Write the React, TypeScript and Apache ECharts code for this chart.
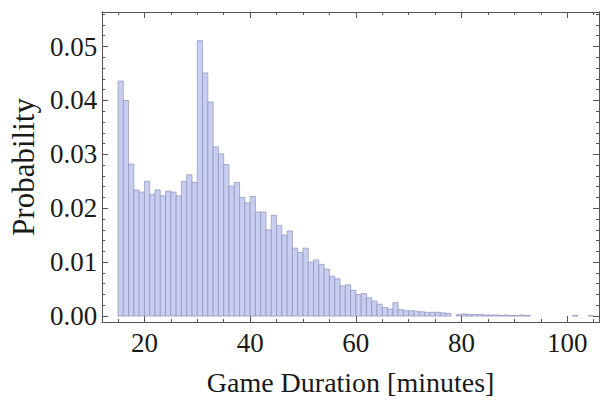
import React, { useEffect, useRef } from "react";
import * as echarts from "echarts";

// Histogram: game duration (minutes), 1-minute bins starting at 15
const firstBin = 15;
const binWidth = 1;
const probability = [
  0.0436, 0.04, 0.0282, 0.0234, 0.023, 0.025, 0.0226, 0.0234, 0.0223, 0.0232,
  0.023, 0.0223, 0.025, 0.0262, 0.0248, 0.0511, 0.0451, 0.0397, 0.0314, 0.0301,
  0.0281, 0.0241, 0.0248, 0.022, 0.021, 0.0222, 0.0193, 0.0193, 0.016, 0.0187,
  0.0168, 0.015, 0.0158, 0.0126, 0.0118, 0.0126, 0.01, 0.0104, 0.0096, 0.0087,
  0.0074, 0.0069, 0.0056, 0.0058, 0.0048, 0.004, 0.0042, 0.0034, 0.0028, 0.0022,
  0.0016, 0.0013, 0.0025, 0.0012, 0.001, 0.001, 0.0009, 0.0008, 0.0007, 0.0007,
  0.0007, 0.0006, 0.0005, 0, 0.0003, 0.0004, 0.0003, 0.0003, 0.0003, 0.0002,
  0.0002, 0.0002, 0.0001, 0.0002, 0.0001, 0.0001, 0.0002, 0.0001, 0, 0,
  0, 0, 0, 0, 0, 0, 0.0001, 0, 0, 0.0001,
];

const xMajorTicks = [20, 40, 60, 80, 100];
const xMinorTicks = [15, 25, 30, 35, 45, 50, 55, 65, 70, 75, 85, 90, 95, 105];
const yMajorTicks = [0, 0.01, 0.02, 0.03, 0.04, 0.05];
const yMinorTicks = [
  0.002, 0.004, 0.006, 0.008, 0.012, 0.014, 0.016, 0.018, 0.022, 0.024, 0.026,
  0.028, 0.032, 0.034, 0.036, 0.038, 0.042, 0.044, 0.046, 0.048, 0.052, 0.054,
  0.056,
];

const X_MIN = 12;
const X_MAX = 106;
const Y_MIN = -0.0011;
const Y_MAX = 0.0564;

const FONT = "'Liberation Serif', 'Times New Roman', serif";
const FRAME = "#555555";
const TEXT = "#1a1a1a";

function makeAxis(
  kind: "x" | "y",
  position: string,
  ticks: number[],
  tickLen: number,
  showLabels: boolean,
  extra: any = {}
) {
  return {
    type: "value",
    gridIndex: 0,
    position,
    min: kind === "x" ? X_MIN : Y_MIN,
    max: kind === "x" ? X_MAX : Y_MAX,
    axisLine: { show: true, onZero: false, lineStyle: { color: FRAME, width: 1 } },
    axisTick: {
      show: true,
      inside: true,
      length: tickLen,
      customValues: ticks,
      lineStyle: { color: FRAME, width: 1 },
    },
    axisLabel: showLabels
      ? {
          show: true,
          customValues: ticks,
          fontFamily: FONT,
          fontSize: 27,
          color: TEXT,
          margin: kind === "x" ? 7 : 5,
          formatter: (v: number) => (kind === "y" ? v.toFixed(2) : String(Math.round(v))),
        }
      : { show: false },
    splitLine: { show: false },
    ...extra,
  };
}

export default function App() {
  const ref = useRef<HTMLDivElement>(null);

  useEffect(() => {
    document.body.style.margin = "0";
    if (!ref.current) return;
    const chart = echarts.init(ref.current, null, { renderer: "svg" });

    const data = probability.map((p, i) => [
      firstBin + i * binWidth,
      firstBin + (i + 1) * binWidth,
      p,
    ]);

    chart.setOption({
      animation: false,
      backgroundColor: "#ffffff",
      grid: { left: 97, right: 3, top: 12, bottom: 81, containLabel: false },
      xAxis: [
        makeAxis("x", "bottom", xMajorTicks, 6, true, {
          name: "Game Duration [minutes]",
          nameLocation: "middle",
          nameGap: 46,
          nameTextStyle: { fontFamily: FONT, fontSize: 28, color: TEXT },
        }),
        makeAxis("x", "bottom", xMinorTicks, 3, false),
        makeAxis("x", "top", xMajorTicks, 6, false),
        makeAxis("x", "top", xMinorTicks, 3, false),
      ],
      yAxis: [
        makeAxis("y", "left", yMajorTicks, 6, true, {
          name: "Probability",
          nameLocation: "middle",
          nameGap: 60,
          nameTextStyle: { fontFamily: FONT, fontSize: 31, color: TEXT },
        }),
        makeAxis("y", "left", yMinorTicks, 3, false),
        makeAxis("y", "right", yMajorTicks, 6, false),
        makeAxis("y", "right", yMinorTicks, 3, false),
      ],
      series: [
        {
          type: "custom",
          xAxisIndex: 0,
          yAxisIndex: 0,
          clip: true,
          encode: { x: [0, 1], y: 2 },
          data,
          renderItem: (_params: any, api: any) => {
            const x0 = api.value(0);
            const x1 = api.value(1);
            const v = api.value(2);
            if (!v) return { type: "group", children: [] };
            const a = api.coord([x0, 0]);
            const b = api.coord([x1, v]);
            return {
              type: "rect",
              shape: { x: a[0], y: b[1], width: b[0] - a[0], height: a[1] - b[1] },
              style: { fill: "#c8cdf2", stroke: "#8f92b6", lineWidth: 0.7 },
            };
          },
        },
      ],
    });

    return () => chart.dispose();
  }, []);

  return <div ref={ref} style={{ width: 602, height: 403 }} />;
}
